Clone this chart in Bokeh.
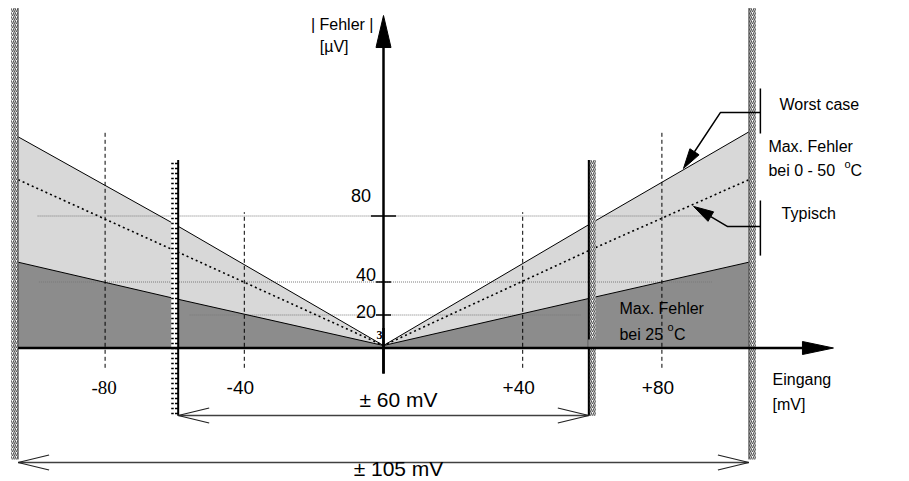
from bokeh.plotting import figure
from bokeh.models import Range1d
from bokeh.embed import file_html
from bokeh.resources import INLINE
from bokeh.core.properties import value
import math

# ---------------- data ----------------
input_mv = [-105, -60, 0, 60, 105]          # Eingang [mV]
worst_case = [128, 75, 1.5, 76, 131]        # Max. Fehler bei 0 - 50 oC  [uV]
typical = [102, 59, 1.5, 60, 102]           # Typisch [uV]
max_25c = [52, 30, 1.5, 30.5, 52]           # Max. Fehler bei 25 oC [uV]
x_gridlines = [-80, -40, 40, 80]
x_tick_labels = ["-80", "-40", "+40", "+80"]
y_ticks = [80, 40, 20]
y_tick_labels = ["80", "40", "20"]
inner_limit = 60
outer_limit = 105

# ---------------- scale helpers (px -> data units) ----------------
SX = 3.48   # px per mV
SY = 1.65   # px per uV
def dx(px):
    return px / SX
def dy(px):
    return px / SY

W, H = 909, 481
p = figure(width=W, height=H, output_backend="svg", toolbar_location=None,
           x_range=Range1d(-383 / SX, (W - 383) / SX),
           y_range=Range1d(-(H - 347.5) / SY, 347.5 / SY),
           x_axis_location=None, y_axis_location=None, min_border=0)
p.grid.visible = False
p.outline_line_color = None
p.background_fill_color = "white"

LIGHT = "#d8d8d8"
DARK = "#8c8c8c"
SANS = value("Liberation Sans")
SERIF = value("Liberation Serif")

def label(x, y, s, size=16, align="left", font=SANS, style="normal"):
    # baseline correction of the text layout (~0.43 em)
    p.text(x=[x], y=[y + dy(0.43 * size)], text=[s], text_font=font,
           text_font_size=f"{size}px", text_font_style=style,
           text_align=align, text_baseline="alphabetic", text_color="black")

# ---------------- shaded regions ----------------
p.varea(x=input_mv, y1=[0] * len(input_mv), y2=worst_case, fill_color=LIGHT)
p.varea(x=input_mv, y1=[0] * len(input_mv), y2=max_25c, fill_color=DARK)

# horizontal dotted guide lines
hgrid = {80: (-99.4, 92.0), 40: (-99.0, 94.5), 20: (-55.7, 56.8)}
for yv, (x0, x1) in hgrid.items():
    p.line([x0, x1], [yv, yv], line_color="#7a7a7a", line_width=1, line_dash="1 1")

# vertical dashed lines
for xv in x_gridlines:
    top = 131.8 if abs(xv) == 80 else 82.3
    p.line([xv, xv], [-12, top], line_color="black", line_width=1, line_dash="4 3")

# series lines
p.line(input_mv, worst_case, line_color="black", line_width=1)
p.line(input_mv, typical, line_color="black", line_width=1.6, line_dash="2 3")
p.line(input_mv, max_25c, line_color="black", line_width=1)

# ---------------- walls ----------------
wall_w = 2.0
wall_bottom = -67.5
p.quad(left=[-outer_limit - wall_w, outer_limit], right=[-outer_limit, outer_limit + wall_w],
       bottom=[wall_bottom, wall_bottom], top=[206, 206], fill_color="white", line_color=None,
       hatch_pattern="/", hatch_color="#555555", hatch_scale=4, hatch_weight=1.2)
p.quad(left=[-inner_limit - 1], right=[-inner_limit + 1], bottom=[-41], top=[114],
       fill_color="white", line_color=None, hatch_pattern='"', hatch_color="black",
       hatch_scale=5, hatch_weight=1.5)
p.quad(left=[inner_limit - 1], right=[inner_limit + 1], bottom=[-41], top=[114],
       fill_color="white", line_color=None, hatch_pattern="/", hatch_color="#555555",
       hatch_scale=4, hatch_weight=1.2)
p.segment(x0=[-outer_limit, outer_limit], x1=[-outer_limit, outer_limit],
          y0=[wall_bottom, wall_bottom], y1=[206, 206], line_color="#444444", line_width=1)
p.segment(x0=[-inner_limit + 1, inner_limit - 1], x1=[-inner_limit + 1, inner_limit - 1],
          y0=[-41, -41], y1=[114, 114], line_color="black", line_width=2)

# ---------------- axes ----------------
x_tip = 129.3
x_base = x_tip - dx(31)
y_tip = 201.5
y_base = y_tip - dy(32)
p.patch([x_tip, x_base, x_base], [0, dy(6.5), -dy(6.5)], fill_color="black", line_color="black")
p.line([0, 0], [-15.5, y_base], line_color="black", line_width=2.5)
p.patch([0, -dx(7.5), dx(7.5)], [y_tip, y_base, y_base], fill_color="black", line_color="black")

tick_half = {80: 12.5, 40: 7.5, 20: 7.5}
label_shift = {80: 12.5, 40: 0.0, 20: -4.0}
for yv, lab in zip(y_ticks, y_tick_labels):
    half = dx(tick_half[yv])
    p.line([-half, half], [yv, yv], line_color="black", line_width=1.5)
    label(-half, yv + dy(label_shift[yv]), lab, size=18, align="right")
label(-dx(1), dy(7.5), "3", size=12, align="right", font=SERIF, style="bold")

# x tick labels
for xv, lab in zip(x_gridlines, x_tick_labels):
    font = SERIF if lab == "-80" else SANS
    shift = -dx(1) if xv == -80 else -dx(4)
    label(xv + shift, dy(-47.5), lab, size=19, align="center", font=font)

# axis titles
label(-dx(10), 184.5 + dy(12), "| Fehler |", align="right")
label(-dx(35), 171.0 + dy(12), "[\u00b5V]", align="right")
label(dx(389), -23.3, "Eingang")
label(dx(389), -38.5, "[mV]")

# legend texts
label(113.8, 143.3, "Worst case")
label(110.6, 117.9, "Max. Fehler")
label(110.6, 103.3, "bei  0 - 50")
label(110.6 + dx(76), 103.3 + dy(9), "o", size=11)
label(110.6 + dx(82), 103.3, "C")
label(114.4, 77.3, "Typisch")

label(67.8, 19.7, "Max. Fehler")
label(67.8, 4.3, "bei 25")
label(67.8 + dx(48), 4.3 + dy(9), "o", size=11)
label(67.8 + dx(54.5), 4.3, "C")
# bottom of that text box is hidden by the dark region
p.quad(left=[66.5], right=[inner_limit - 1.2], bottom=[0], top=[dy(8.5)],
       fill_color=DARK, line_color=None)

# x axis drawn last so it lies on top
p.line([-outer_limit, x_base], [0, 0], line_color="black", line_width=2.5)
p.line([0, 0], [-15.5, dy(20)], line_color="black", line_width=2.5)

# brackets + leader arrows
bx = 108.3
p.line([bx, bx], [130, 157.3], line_color="black", line_width=1.5)
p.line([bx, bx], [56, 89.4], line_color="black", line_width=1.5)

def leader(pts, tip, head_len=20, head_half=5.5):
    cx, cy = pts[-1]
    tx, ty = tip
    ddx = (tx - cx) * SX
    ddy = (ty - cy) * SY
    L = math.hypot(ddx, ddy)
    ux, uy = ddx / L, ddy / L
    base = (tx - dx(ux * head_len), ty - dy(uy * head_len))
    px_, py_ = -uy * head_half, ux * head_half
    p.line([q[0] for q in pts] + [base[0]], [q[1] for q in pts] + [base[1]],
           line_color="black", line_width=1.5)
    p.patch([tx, base[0] + dx(px_), base[0] - dx(px_)],
            [ty, base[1] + dy(py_), base[1] - dy(py_)], fill_color="black", line_color="black")

leader([(bx, 142.7), (96.8, 142.7)], (86.2, 108.8))
leader([(bx, 73.6), (98.9, 73.6)], (89.1, 85.8))

# dimension arrows
def dim_arrow(x0, x1, y, text, text_y, size):
    p.line([x0, x1], [y, y], line_color="#404040", line_width=1.5)
    hl, hh = dx(31), dy(7.5)
    p.segment(x0=[x0, x0, x1, x1], y0=[y, y, y, y],
              x1=[x0 + hl, x0 + hl, x1 - hl, x1 - hl], y1=[y + hh, y - hh, y + hh, y - hh],
              line_color="#202020", line_width=1.2)
    label(dx(15), text_y, text, align="center", size=size)

dim_arrow(-inner_limit + 1, inner_limit - 1, -40.9, "\u00b1 60 mV", -36.7, 21)
dim_arrow(-outer_limit, outer_limit, -69.4, "\u00b1 105 mV", -78.3, 21)

open("out.html", "w").write(file_html(p, INLINE))
